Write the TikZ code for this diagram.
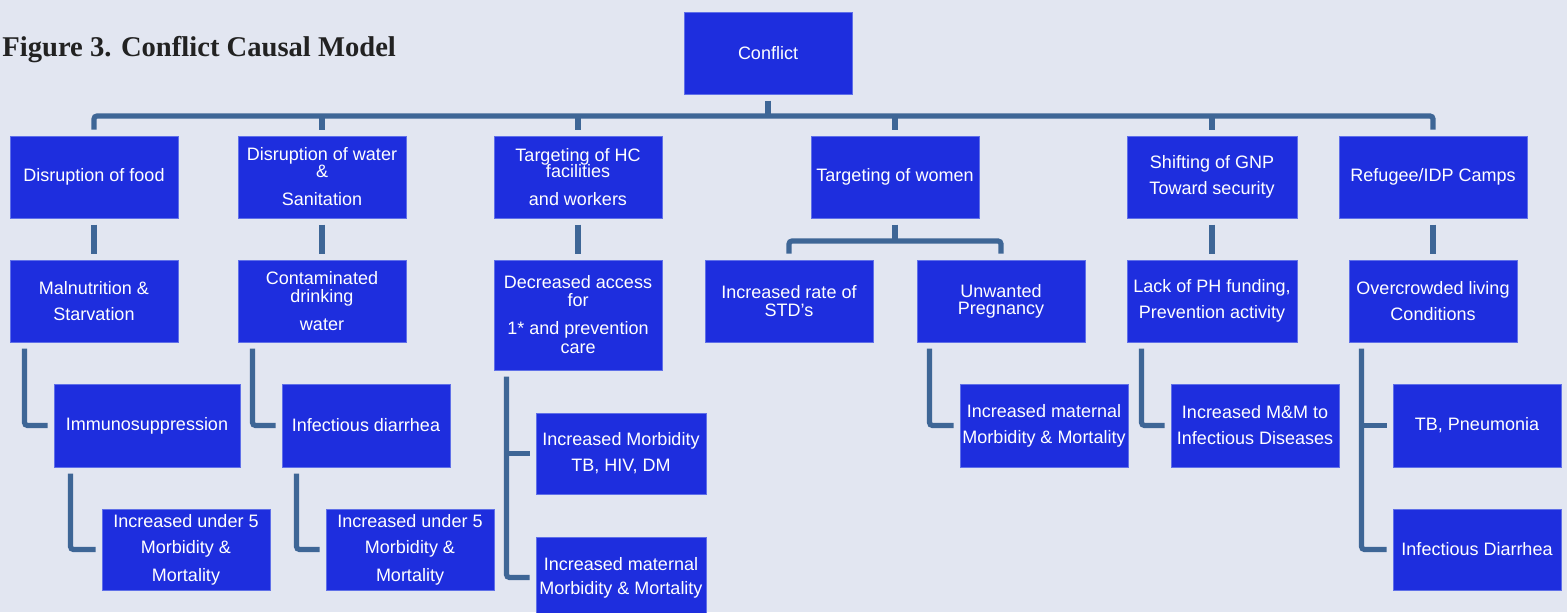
\documentclass[tikz,border=0pt]{standalone}
\usepackage{fontspec}
\setmainfont{Liberation Sans}
\newfontfamily\titlefont{Liberation Serif}
\definecolor{bg}{RGB}{226,230,241}
\definecolor{boxfill}{RGB}{30,46,222}
\definecolor{boxline}{RGB}{96,112,232}
\definecolor{conncol}{RGB}{62,102,150}
\definecolor{titlecol}{RGB}{34,34,34}
\begin{document}
\begin{tikzpicture}[x=0.5pt,y=-0.5pt,
  boxnode/.style={draw=boxline, line width=0.5pt, fill=boxfill, text=white,
    inner sep=0pt, align=center, minimum width=84pt, minimum height=41pt,
    font=\fontsize{9pt}{13pt}\selectfont},
  conn/.style={draw=conncol, line width=2.6pt, rounded corners=1.5pt, line cap=butt}]
\fill[bg] (0,0) rectangle (1567,612);
\useasboundingbox (0,0) rectangle (1567,612);

\node[anchor=base west, inner sep=0pt, text=titlecol, font=\titlefont\bfseries\fontsize{14.3pt}{16pt}\selectfont] (title) at (2,56) {Figure 3. Conflict Causal Model};

% level 0
\node[boxnode] (conflict) at (768,53) {Conflict};
% level 1
\node[boxnode] (food) at (94,177) {Disruption of food};
\node[boxnode] (water) at (322,177) {Disruption of water\\[-4.5pt]\&\\[1pt]Sanitation};
\node[boxnode] (hc) at (578,177) {Targeting of HC\\[-5pt]facilities\\[1pt]and workers};
\node[boxnode] (women) at (895,177) {Targeting of women};
\node[boxnode, minimum width=85pt] (gnp) at (1212,177) {Shifting of GNP\\Toward security};
\node[boxnode, minimum width=94pt] (camps) at (1433,177) {Refugee/IDP Camps};
% level 2
\node[boxnode] (mal) at (94,301) {Malnutrition \&\\Starvation};
\node[boxnode] (cont) at (322,301) {Contaminated\\[-4pt]drinking\\[1pt]water};
\node[boxnode, minimum height=55pt] (access) at (578,315) {Decreased access\\[-4pt]for\\[1pt]1* and prevention\\[-3.5pt]care};
\node[boxnode] (std) at (789,301) {Increased rate of\\[-4pt]STD's};
\node[boxnode] (unw) at (1001,301) {Unwanted\\[-4.5pt]Pregnancy};
\node[boxnode, minimum width=85pt] (lack) at (1212,301) {Lack of PH funding,\\Prevention activity};
\node[boxnode] (over) at (1433,301) {Overcrowded living\\Conditions};
% level 3
\node[boxnode, minimum width=93pt, minimum height=41.5pt] (immuno) at (147,425.5) {Immunosuppression};
\node[boxnode, minimum height=41.5pt] (infd) at (366,425.5) {Infectious diarrhea};
\node[boxnode, minimum width=85pt, minimum height=40.5pt] (tbhiv) at (621,453.5) {Increased Morbidity\\TB, HIV, DM};
\node[boxnode, minimum height=41.5pt] (mat2) at (1044,425.5) {Increased maternal\\Morbidity \& Mortality};
\node[boxnode, minimum height=41.5pt] (mm) at (1255,425.5) {Increased M\&M to\\Infectious Diseases};
\node[boxnode, minimum height=41.5pt] (tbp) at (1477,425.5) {TB, Pneumonia};
% level 4
\node[boxnode, minimum height=40.5pt] (u5a) at (186,549.5) {Increased under 5\\Morbidity \&\\[1pt]Mortality};
\node[boxnode, minimum height=40.5pt] (u5b) at (410,549.5) {Increased under 5\\Morbidity \&\\[1pt]Mortality};
\node[boxnode, minimum width=85pt, minimum height=40.5pt] (mat1) at (621,577.5) {Increased maternal\\[-1pt]Morbidity \& Mortality};
\node[boxnode, minimum height=40.5pt] (idia) at (1477,549.5) {Infectious Diarrhea};

% main bus
\coordinate (bus) at (768,116);
\draw[conn] ([yshift=-3pt]conflict.south) -- (conflict.south |- bus);
\draw[conn] ([yshift=3pt]food.north) |- (bus) -| ([yshift=3pt]camps.north);
\foreach \n in {water,hc,women,gnp}
  \draw[conn] ([yshift=3pt]\n.north) -- (\n.north |- bus);

% level 1 -> 2
\foreach \a/\b in {food/mal,water/cont,hc/access,gnp/lack,camps/over}
  \draw[conn] ([yshift=-3pt]\a.south) -- ([yshift=3pt]\b.north);

% women split
\coordinate (wbus) at (895,241);
\draw[conn] ([yshift=-3pt]women.south) -- (women.south |- wbus);
\draw[conn] ([yshift=3pt]std.north) |- (wbus) -| ([yshift=3pt]unw.north);

% elbows
\draw[conn] ([xshift=7.5pt,yshift=-3pt]mal.south west) |- ([xshift=-3pt]immuno.west);
\draw[conn] ([xshift=8.5pt,yshift=-3pt]immuno.south west) |- ([xshift=-3pt]u5a.west);
\draw[conn] ([xshift=7.5pt,yshift=-3pt]cont.south west) |- ([xshift=-3pt]infd.west);
\draw[conn] ([xshift=7.5pt,yshift=-3pt]infd.south west) |- ([xshift=-3pt]u5b.west);
\coordinate (av) at ([xshift=6.5pt,yshift=-3pt]access.south west);
\draw[conn] (av) |- ([xshift=-3pt]mat1.west);
\draw[conn] (av |- tbhiv.west) -- ([xshift=-3pt]tbhiv.west);
\draw[conn] ([xshift=6.5pt,yshift=-3pt]unw.south west) |- ([xshift=-3pt]mat2.west);
\draw[conn] ([xshift=7.5pt,yshift=-3pt]lack.south west) |- ([xshift=-3pt]mm.west);
\coordinate (ov) at ([xshift=6.5pt,yshift=-3pt]over.south west);
\draw[conn] (ov) |- ([xshift=-3pt]idia.west);
\draw[conn] (ov |- tbp.west) -- ([xshift=-3pt]tbp.west);
\end{tikzpicture}
\end{document}
